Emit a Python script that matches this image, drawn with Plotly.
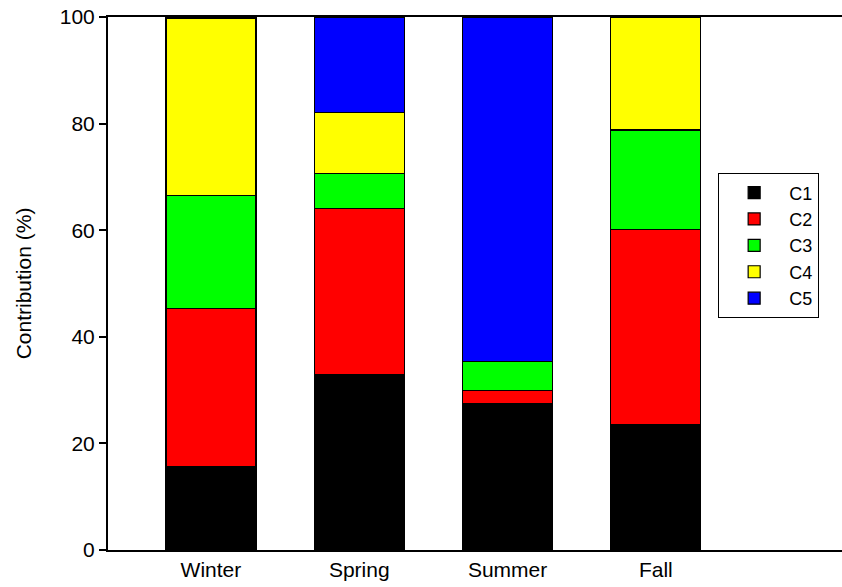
import plotly.graph_objects as go

seasons = ["Winter", "Spring", "Summer", "Fall"]
series_names = ["C1", "C2", "C3", "C4", "C5"]
c1 = [15.6, 32.9, 27.4, 23.5]
c2 = [29.7, 31.2, 2.5, 36.7]
c3 = [21.2, 6.6, 5.4, 18.6]
c4 = [33.2, 11.4, 0.0, 21.2]
c5 = [0.3, 17.9, 64.7, 0.0]
colors = ["#000000", "#ff0000", "#00ff00", "#ffff00", "#0000ff"]
y_ticks = [0, 20, 40, 60, 80, 100]

xpos = list(range(len(seasons)))
fig = go.Figure()
for name, vals, col in zip(series_names, [c1, c2, c3, c4, c5], colors):
    fig.add_trace(go.Bar(
        x=xpos, y=vals, name=name, marker_color=col,
        marker_line_color="black", marker_line_width=1.2, width=0.607,
    ))

font = "Liberation Sans, Arial, sans-serif"
fig.update_layout(
    barmode="stack",
    width=842, height=587,
    margin=dict(l=108, r=0, t=17, b=37),
    plot_bgcolor="white", paper_bgcolor="white",
    font=dict(family=font, size=21, color="black"),
    legend=dict(
        x=0.831, y=0.707, xanchor="left", yanchor="top",
        bordercolor="black", borderwidth=1.2, bgcolor="white",
        font=dict(size=18), traceorder="normal", itemwidth=60,
    ),
)
fig.update_xaxes(
    range=[-0.694, 4.255], tickvals=xpos, ticktext=seasons,
    showline=True, linecolor="black", linewidth=2, mirror=True,
    ticks="", showgrid=False, zeroline=False,
    tickfont=dict(size=21),
)
fig.update_yaxes(
    range=[0, 100], tickvals=y_ticks,
    showline=True, linecolor="black", linewidth=2,
    ticks="outside", ticklen=7, tickwidth=1.5, tickcolor="black",
    showgrid=False, zeroline=False,
    title=dict(text="Contribution (%)", font=dict(size=21), standoff=22),
    tickfont=dict(size=21),
)
fig.write_html("out.html", config={"displayModeBar": False},
               post_script="document.body.style.margin='0';document.body.style.overflow='hidden';")
